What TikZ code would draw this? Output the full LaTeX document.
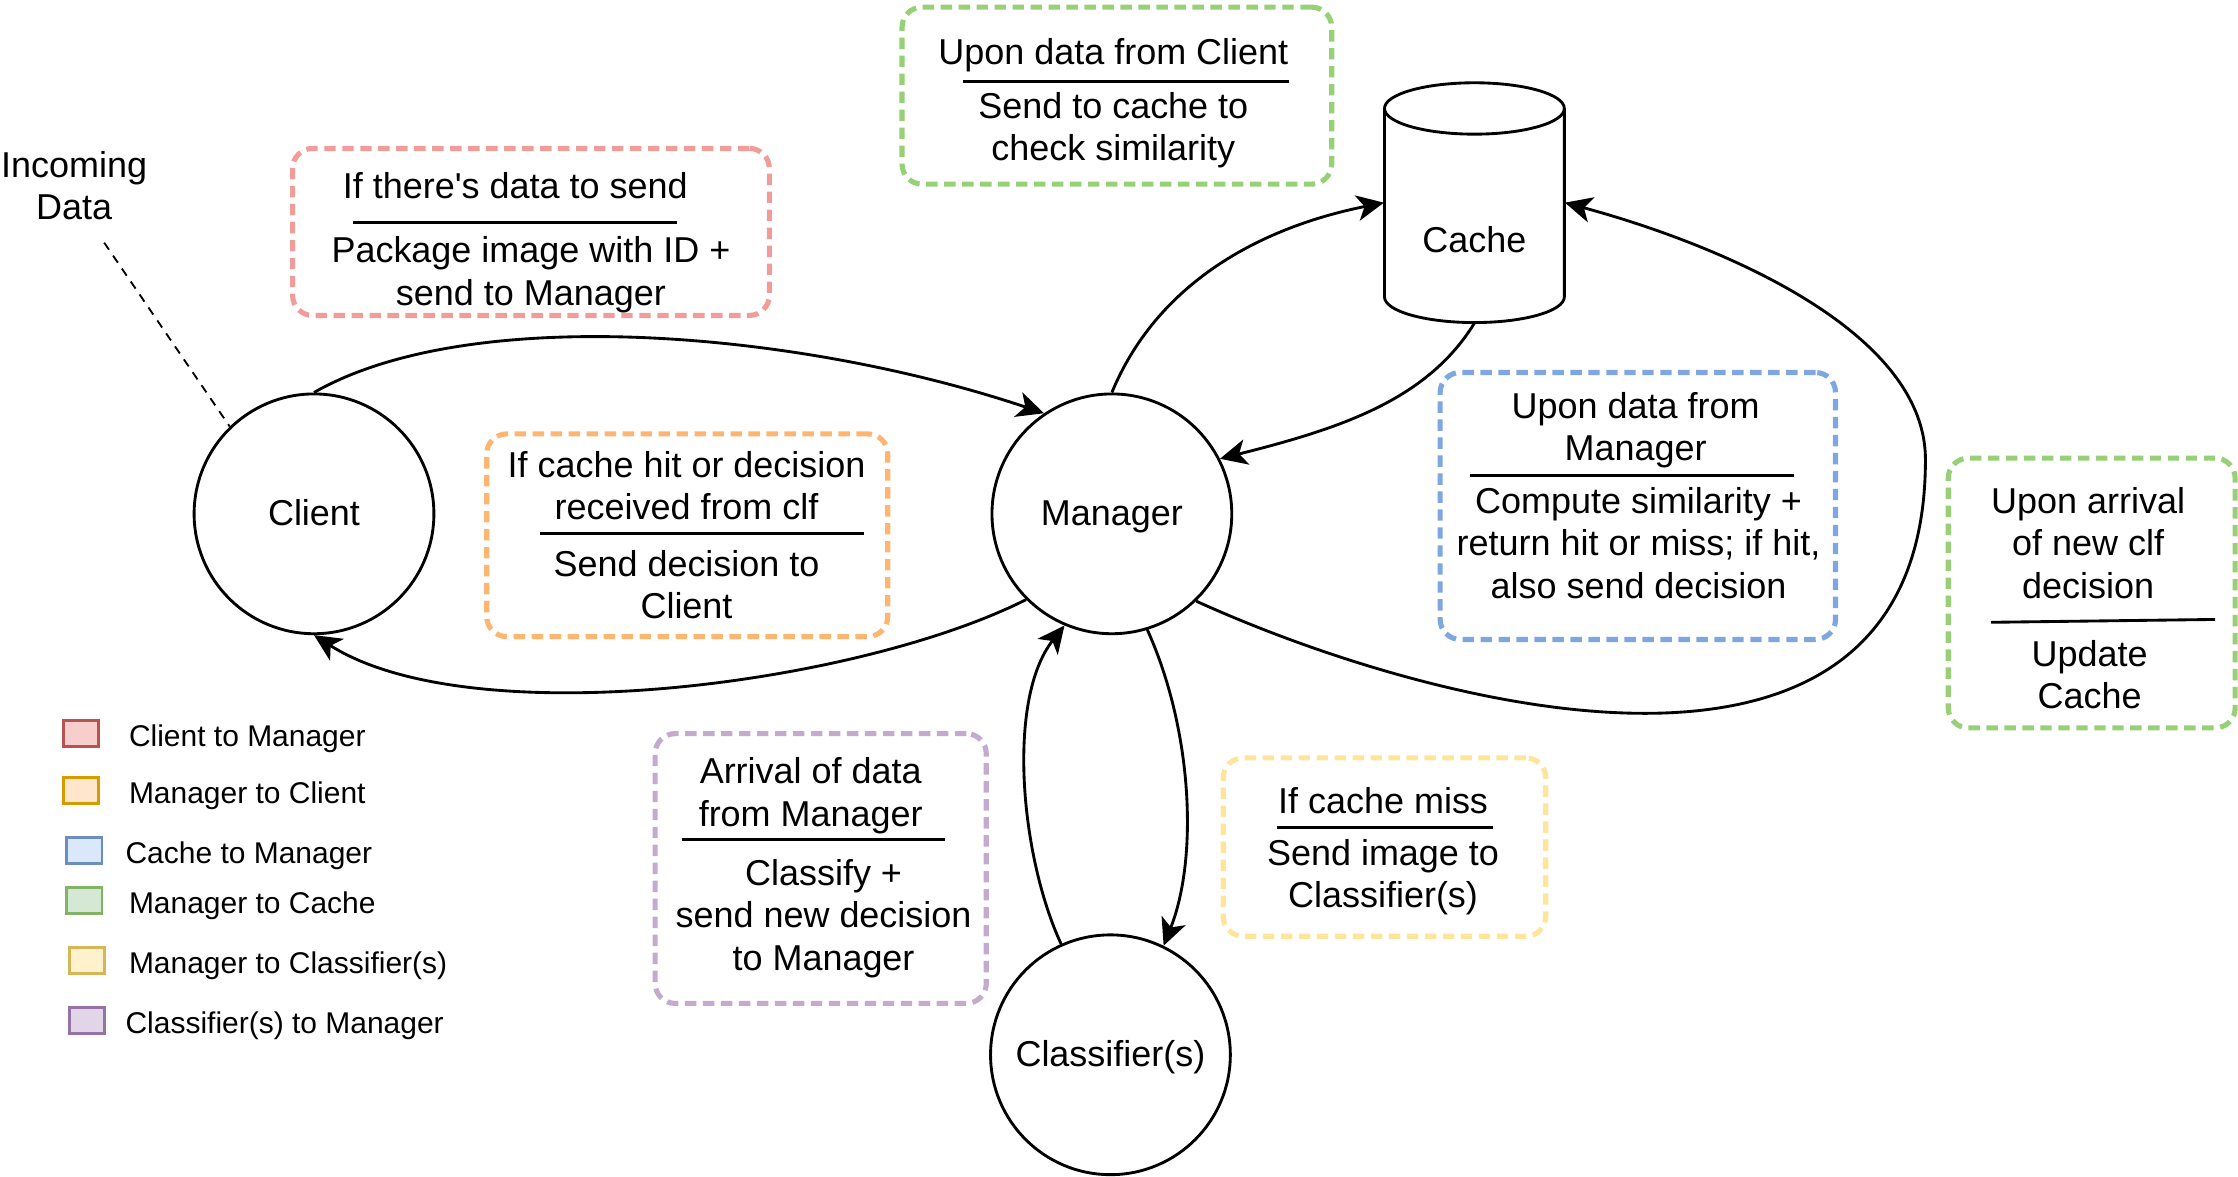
\documentclass[tikz,border=0pt]{standalone}
\usepackage{fontspec}
\setmainfont{Liberation Sans}
\usetikzlibrary{arrows.meta}

\definecolor{redline}{HTML}{F19C99}
\definecolor{orangeline}{HTML}{FFB570}
\definecolor{blueline}{HTML}{7EA6E0}
\definecolor{greenline}{HTML}{97D077}
\definecolor{yellowline}{HTML}{FFE599}
\definecolor{purpleline}{HTML}{C3ABD0}
\definecolor{redkey}{HTML}{B85450}
\definecolor{redfill}{HTML}{F8CECC}
\definecolor{orangekey}{HTML}{D79B00}
\definecolor{orangefill}{HTML}{FFE6CC}
\definecolor{bluekey}{HTML}{6C8EBF}
\definecolor{bluefill}{HTML}{DAE8FC}
\definecolor{greenkey}{HTML}{82B366}
\definecolor{greenfill}{HTML}{D5E8D4}
\definecolor{yellowkey}{HTML}{D6B656}
\definecolor{yellowfill}{HTML}{FFF2CC}
\definecolor{purplekey}{HTML}{9673A6}
\definecolor{purplefill}{HTML}{E1D5E7}

\begin{document}
\begin{tikzpicture}[x=0.5pt,y=-0.5pt]

    \tikzset{
      state/.style={
        draw,
        circle,
        line width=1pt,
        minimum size=84pt,
        inner sep=0pt,
        text height=0.8em,
        text depth=0pt,
        font=\fontsize{12.6}{14.8}\selectfont,
      },
      flow/.style={
        line width=1pt,
        -{Stealth[length=9.5pt,width=9pt,inset=2.6pt]},
      },
      note/.style={
        draw=#1,
        line width=1.8pt,
        dash pattern=on 4pt off 2.3pt,
        rounded corners=7pt,
        inner sep=0pt,
      },
      txt/.style={
        align=center,
        inner sep=0pt,
        yshift=-1.5pt,
        font=\fontsize{12.6}{14.8}\selectfont,
      },
      key/.style={
        draw=#1key,
        fill=#1fill,
        line width=1pt,
        minimum width=12.5pt,
        minimum height=9pt,
        inner sep=0pt,
      },
      keytxt/.style={
        anchor=west,
        inner sep=0pt,
        yshift=-1.8pt,
        font=\fontsize{10.5}{12.6}\selectfont,
      },
    }
    \useasboundingbox (0,0) rectangle (1568,824);

	% states
	\node[state] (client) at (220,360) {Client};
	\node[state] (mgr) at (779,360) {Manager};
	\node[state] (clf) at (778,739) {Classifier(s)};
	\draw[line width=1pt] (970,76) -- (970,208) arc[start angle=180,end angle=360,x radius=31.5pt,y radius=9pt] -- (1096,76) arc[start angle=0,end angle=180,x radius=31.5pt,y radius=9pt] -- cycle;
	\draw[line width=1pt] (970,76) arc[start angle=180,end angle=360,x radius=31.5pt,y radius=9pt];
	\node[inner sep=0pt,minimum width=63pt,minimum height=84pt] (cache) at (1033,142) {};
	\node[txt,yshift=-11.5pt] (cachetxt) at (cache.center) {Cache};

	% incoming data
	\node[txt] (incoming) at (52,127) {Incoming\\Data};
	\coordinate (indata) at (73,170);
	\draw[line width=0.65pt,dash pattern=on 3pt off 2.5pt] (indata) -- (client.134);

	% flows
	\draw[flow] (client.north) .. controls (330,212) and (560,232) .. (mgr.124);
	\draw[flow] (mgr.225) .. controls (600,480) and (330,515) .. (client.south);
	\draw[flow] (mgr.north) .. controls (810,200) and (880,160) .. (cache.west);
	\draw[flow] (cache.south) .. controls (1000,280) and (940,300) .. (mgr.27);
	\coordinate (loop) at (1349,322);
	\draw[flow] (mgr.-46) .. controls (1000,495) and (1349,590) .. (loop) .. controls (1349,230) and (1200,170) .. (cache.east);
	\draw[flow] (clf.114) .. controls (715,600) and (705,490) .. (mgr.247);
	\draw[flow] (mgr.-73) .. controls (835,510) and (840,600) .. (clf.64);

	% client to manager
	\node[note=redline,minimum width=167pt,minimum height=58.5pt] (c2mbox) at (372,162.5) {};
	\node[txt] (c2mtop) at (361,127) {If there\textquotesingle s data to send};
	\draw[line width=1pt] (247,156) -- (474,156);
	\node[txt] (c2mbot) at (372,189.5) {Package image with ID +\\send to Manager};

	% manager to cache
	\node[note=greenline,minimum width=150.5pt,minimum height=62pt] (m2cbox) at (782.5,67) {};
	\node[txt] (m2ctop) at (780,36) {Upon data from Client};
	\draw[line width=1pt] (675,57) -- (903,57);
	\node[txt] (m2cbot) at (780,88) {Send to cache to\\check similarity};

	% manager to client
	\node[note=orangeline,minimum width=140.5pt,minimum height=71pt] (m2clbox) at (481.5,375) {};
	\node[txt] (m2cltop) at (481,337.5) {If cache hit or decision\\received from clf};
	\draw[line width=1pt] (378,374) -- (605,374);
	\node[txt] (m2clbot) at (481,406.5) {Send decision to\\Client};

	% cache to manager
	\node[note=blueline,minimum width=138.5pt,minimum height=93.5pt] (c2mgbox) at (1147.5,354.5) {};
	\node[txt] (c2mgtop) at (1146,298.5) {Upon data from\\Manager};
	\draw[line width=1pt] (1030,333) -- (1257,333);
	\node[txt] (c2mgbot) at (1148,377.5) {Compute similarity +\\return hit or miss; if hit,\\also send decision};

	% update cache
	\node[note=greenline,minimum width=100.5pt,minimum height=94.5pt] (updbox) at (1465.5,415.5) {};
	\node[txt] (updtop) at (1463,377.5) {Upon arrival\\of new clf\\decision};
	\draw[line width=1pt] (1395,436) -- (1552,434);
	\node[txt] (updbot) at (1464,469.5) {Update\\Cache};

	% classifier(s) to manager
	\node[note=purpleline,minimum width=116pt,minimum height=94.5pt] (f2mbox) at (575,608.5) {};
	\node[txt] (f2mtop) at (568,554.5) {Arrival of data\\from Manager};
	\draw[line width=1pt] (478,588) -- (662,588);
	\node[txt] (f2mbot) at (577,640.5) {Classify +\\send new decision\\to Manager};

	% manager to classifier(s)
	\node[note=yellowline,minimum width=113pt,minimum height=62.5pt] (m2fbox) at (970,593.5) {};
	\node[txt] (m2ftop) at (969,558) {If cache miss};
	\draw[line width=1pt] (895,580) -- (1046,580);
	\node[txt] (m2fbot) at (969,611.5) {Send image to\\Classifier(s)};

	% legend
	\node[key=red] (k1) at (56.8,514) {};
	\node[key=orange] (k2) at (56.8,554) {};
	\node[key=blue] (k3) at (59,596) {};
	\node[key=green] (k4) at (59,631) {};
	\node[key=yellow] (k5) at (61,673) {};
	\node[key=purple] (k6) at (61,715) {};
	\node[keytxt] (l1) at (90,514) {Client to Manager};
	\node[keytxt] (l2) at (90,554) {Manager to Client};
	\node[keytxt] (l3) at (87.6,596) {Cache to Manager};
	\node[keytxt] (l4) at (90,631) {Manager to Cache};
	\node[keytxt] (l5) at (90,673) {Manager to Classifier(s)};
	\node[keytxt] (l6) at (87.6,715) {Classifier(s) to Manager};

\end{tikzpicture}
\end{document}
